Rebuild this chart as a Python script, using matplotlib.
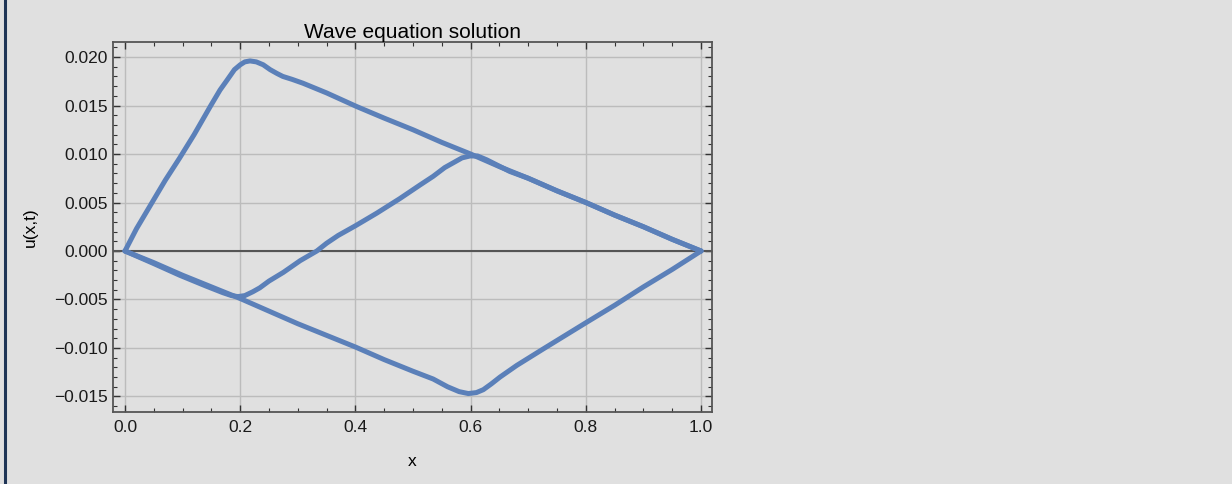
import matplotlib
matplotlib.use("Agg")
import matplotlib.pyplot as plt
from matplotlib.ticker import MultipleLocator, FuncFormatter
from matplotlib.lines import Line2D

# Data (three snapshots of the string)
x1 = [0, 0.02, 0.045, 0.07, 0.095, 0.12, 0.148, 0.165, 0.177, 0.19, 0.2, 0.208, 0.217,
      0.228, 0.24, 0.252, 0.264, 0.274, 0.29, 0.309, 0.35, 0.402, 0.45, 0.5, 0.55, 0.6,
      0.65, 0.7, 0.75, 0.8, 0.85, 0.9, 0.95, 1.0]
u1 = [0, 0.0023, 0.0048, 0.0073, 0.0096, 0.0120, 0.0149, 0.0166, 0.0176, 0.0187, 0.0192,
      0.0195, 0.0196, 0.0195, 0.0192, 0.0187, 0.0183, 0.0180, 0.0177, 0.0173, 0.0163,
      0.0149, 0.0137, 0.0125, 0.0112, 0.0100, 0.0087, 0.0075, 0.0062, 0.0050, 0.0037,
      0.0025, 0.0012, 0.0]

x2 = [0, 0.05, 0.095, 0.14, 0.17, 0.185, 0.196, 0.208, 0.222, 0.234, 0.25, 0.275, 0.304,
      0.333, 0.35, 0.37, 0.40, 0.437, 0.477, 0.512, 0.535, 0.555, 0.57, 0.585, 0.599, 0.612,
      0.628, 0.648, 0.668, 0.7, 0.75, 0.8, 0.85, 0.9, 0.95, 1.0]
u2 = [0, -0.0013, -0.0025, -0.0036, -0.0043, -0.0046, -0.0047, -0.0046, -0.0042, -0.0038,
      -0.0031, -0.0022, -0.0010, 0.0, 0.0008, 0.0016, 0.0026, 0.0039, 0.0054, 0.0068, 0.0077,
      0.0086, 0.0091, 0.0096, 0.0098, 0.0098, 0.0094, 0.0088, 0.0082, 0.0075, 0.0062,
      0.0050, 0.0037, 0.0025, 0.0012, 0.0]

x3 = [0, 0.05, 0.1, 0.15, 0.2, 0.25, 0.3, 0.35, 0.4, 0.45, 0.5, 0.535, 0.56, 0.58, 0.596,
      0.61, 0.622, 0.636, 0.651, 0.68, 0.726, 0.8, 0.85, 0.9, 0.95, 1.0]
u3 = [0, -0.0012, -0.0025, -0.0037, -0.0049, -0.0062, -0.0075, -0.0087, -0.0099, -0.0112,
      -0.0124, -0.0132, -0.0140, -0.0145, -0.0147, -0.0146, -0.0143, -0.0137, -0.0130,
      -0.0118, -0.0101, -0.0074, -0.0056, -0.0037, -0.0019, 0.0]

bg = "#e0e0e0"
line_color = "#5b80b9"

plt.rcParams["font.family"] = ["Liberation Sans", "DejaVu Sans"]
plt.rcParams["font.size"] = 12.5

fig = plt.figure(figsize=(12.32, 4.84), dpi=100, facecolor=bg)
ax = fig.add_axes([113 / 1232, 1 - 411.7 / 484, (712 - 113) / 1232, (411.7 - 42) / 484])
ax.set_facecolor(bg)

# left border strip
fig.add_artist(Line2D([5 / 1232, 5 / 1232], [0, 1], color="#1f3556", lw=2.2,
                      transform=fig.transFigure))

for xs, us in [(x1, u1), (x2, u2), (x3, u3)]:
    ax.plot(xs, us, color=line_color, lw=3.6, solid_joinstyle="round",
            solid_capstyle="round", zorder=3)

ax.axhline(0, color="#555555", lw=1.5, zorder=2)

ax.set_xlim(-0.0208, 1.019)
ax.set_ylim(-0.01657, 0.02155)

ax.xaxis.set_major_locator(MultipleLocator(0.2))
ax.xaxis.set_minor_locator(MultipleLocator(0.05))
ax.yaxis.set_major_locator(MultipleLocator(0.005))
ax.yaxis.set_minor_locator(MultipleLocator(0.001))
ax.yaxis.set_major_formatter(FuncFormatter(lambda v, p: ("%.3f" % v).replace("-", "\u2212")
                                           if abs(v) > 1e-12 else "0.000"))
ax.xaxis.set_major_formatter(FuncFormatter(lambda v, p: ("%.1f" % v).replace("-", "\u2212")))

ax.tick_params(which="both", direction="in", top=True, right=True, color="#333333",
               labelcolor="#1a1a1a")
ax.tick_params(which="major", length=5, width=1)
ax.tick_params(which="minor", length=3, width=0.8)
ax.tick_params(axis="x", pad=6)

ax.grid(True, which="major", color="#bcbcbc", lw=1)
ax.set_axisbelow(True)

for s in ax.spines.values():
    s.set_color("#555555")
    s.set_linewidth(1.3)

ax.set_title("Wave equation solution", pad=3)
ax.set_xlabel("x", labelpad=14)
ax.set_ylabel("u(x,t)", labelpad=12)

fig.savefig("out.png", dpi=100, facecolor=bg)
